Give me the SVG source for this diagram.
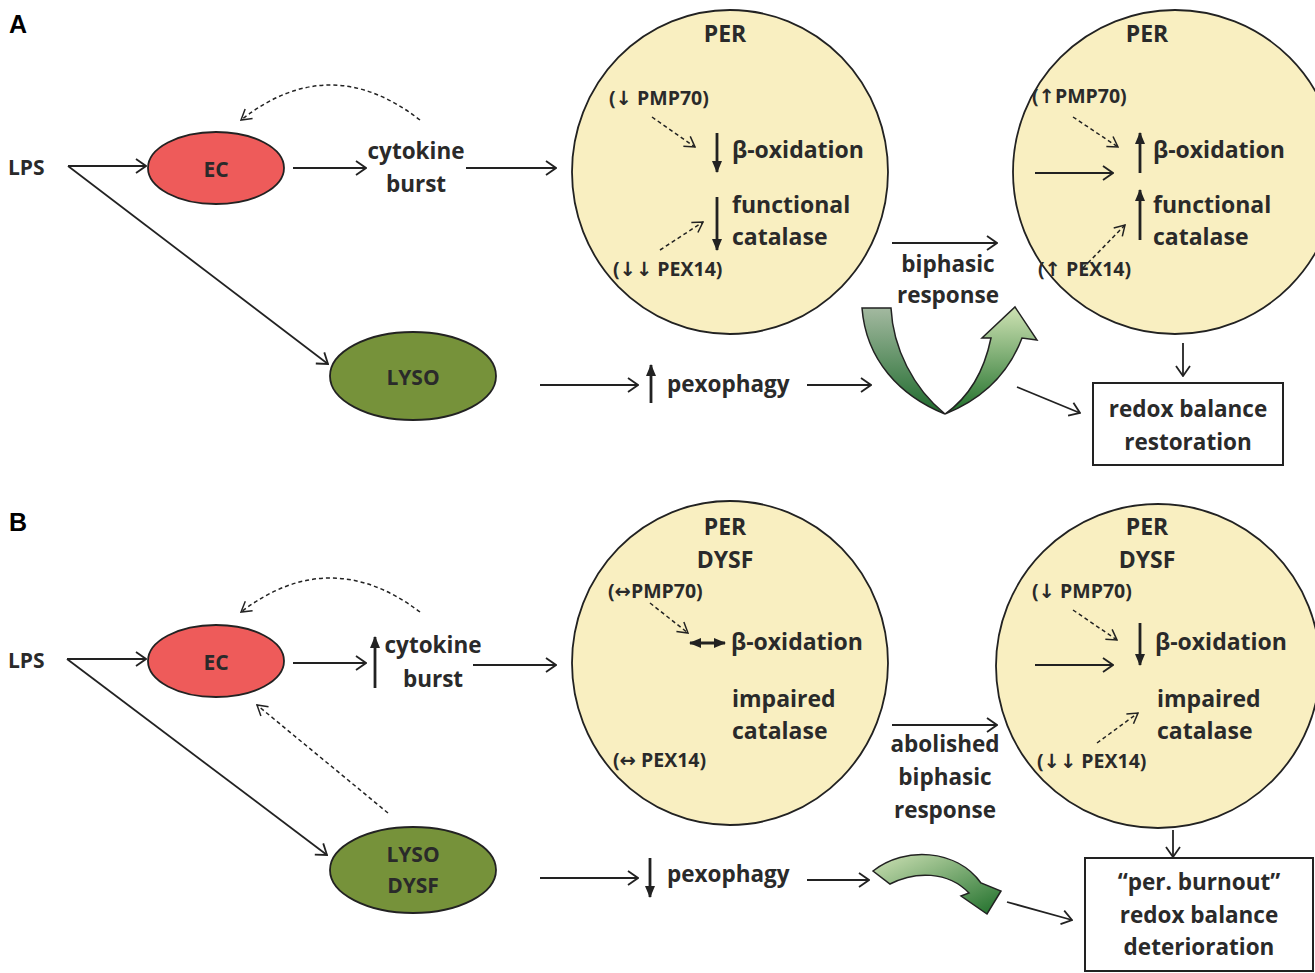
<svg xmlns="http://www.w3.org/2000/svg" width="1315" height="973" viewBox="0 0 1315 973">
<style>
text{font-family:"Open Sans","DejaVu Sans",sans-serif;font-weight:bold;fill:#2a2a2a}
.big{font-size:22.5px}
.lab{font-size:23px}
.sm{font-size:19.5px}
.mid{text-anchor:middle}
.panel{font-family:"Liberation Sans",Arial,sans-serif;font-size:25px;fill:#000}
.ln{fill:none;stroke:#222;stroke-width:1.8;marker-end:url(#oa)}
.ds{fill:none;stroke:#222;stroke-width:1.5;stroke-dasharray:4 3;marker-end:url(#da)}
.fa{fill:none;stroke:#222;stroke-width:2.8;marker-end:url(#fa)}
.per{fill:#f9efc1;stroke:#222;stroke-width:1.8}
.ec{fill:#ee5b5a;stroke:#222;stroke-width:1.8}
.ly{fill:#76923a;stroke:#222;stroke-width:1.8}
.box{fill:#fff;stroke:#222;stroke-width:2}
.ga{stroke:#222;stroke-width:1.5}
</style>
<defs>
<marker id="oa" viewBox="0 0 12 16" refX="11" refY="8" markerWidth="12" markerHeight="16" markerUnits="userSpaceOnUse" orient="auto"><path d="M1,1 L11,8 L1,15" fill="none" stroke="#222" stroke-width="1.8"/></marker>
<marker id="da" viewBox="0 0 12 14" refX="11" refY="7" markerWidth="12" markerHeight="14" markerUnits="userSpaceOnUse" orient="auto"><path d="M1,1 L11,7 L1,13" fill="none" stroke="#222" stroke-width="1.5"/></marker>
<marker id="fa" viewBox="0 0 12 10" refX="11" refY="5" markerWidth="12" markerHeight="10" markerUnits="userSpaceOnUse" orient="auto"><path d="M0,0 L12,5 L0,10 Z" fill="#222"/></marker>
<marker id="fs" viewBox="0 0 12 10" refX="1" refY="5" markerWidth="12" markerHeight="10" markerUnits="userSpaceOnUse" orient="auto"><path d="M12,0 L0,5 L12,10 Z" fill="#222"/></marker>
<linearGradient id="gL" x1="0" y1="0" x2="0" y2="1"><stop offset="0" stop-color="#a3b9a0"/><stop offset="1" stop-color="#1e6a2c"/></linearGradient>
<linearGradient id="gR" x1="0" y1="1" x2="0" y2="0"><stop offset="0" stop-color="#1f6f2a"/><stop offset="1" stop-color="#cfe3b4"/></linearGradient>
<linearGradient id="gB" x1="0" y1="0" x2="1" y2="1"><stop offset="0" stop-color="#cfe2b6"/><stop offset="1" stop-color="#1f6f2a"/></linearGradient>
</defs>

<text class="panel" x="9" y="33">A</text>
<text class="panel" x="9" y="531">B</text>

<g id="connectors">
<!-- panel A -->
<path class="ln" d="M68 166 L146 166"/>
<path class="ln" d="M68 166 L328 364"/>
<path class="ln" d="M293 168 L366 168"/>
<path class="ds" d="M420 120 Q330 50 241 120"/>
<path class="ln" d="M466 168 L556 168"/>
<path class="ln" d="M540 385 L638 385"/>
<path class="fa" d="M651 403 L651 365"/>
<path class="ln" d="M807 385 L871 385"/>
<path class="ln" d="M892 243 L997 243"/>
<path class="ln" d="M1183 343 L1183 376"/>
<path class="ln" d="M1017 387 L1080 413"/>
<!-- panel B -->
<path class="ln" d="M67 659 L146 659"/>
<path class="ln" d="M67 659 L327 855"/>
<path class="ln" d="M293 663 L366 663"/>
<path class="fa" d="M375 688 L375 637"/>
<path class="ds" d="M420 612 Q330 544 241 612"/>
<path class="ln" d="M473 665 L556 665"/>
<path class="ds" d="M388 813 L257 705"/>
<path class="ln" d="M540 878 L638 878"/>
<path class="fa" d="M650 858 L650 897"/>
<path class="ln" d="M807 880 L869 880"/>
<path class="ln" d="M892 725 L997 725"/>
<path class="ln" d="M1173 830 L1173 857"/>
<path class="ln" d="M1007 902 L1072 920"/>
</g>

<g id="ecA"><ellipse class="ec" cx="216" cy="168" rx="68" ry="36"/><text class="big mid" x="216" y="177" style="font-size:21px">EC</text></g>
<g id="lysoA"><ellipse class="ly" cx="413" cy="376" rx="83" ry="44"/><text class="big mid" x="413" y="385" style="font-size:21px">LYSO</text></g>
<g id="lpsA"><text class="big" x="8" y="175" style="font-size:21px">LPS</text></g>
<g id="cytA"><text class="big mid" x="416" y="159">cytokine</text><text class="big mid" x="416" y="192">burst</text></g>
<g id="pexA"><text class="big" x="667" y="392">pexophagy</text></g>
<g id="biA"><text class="big mid" x="948" y="272">biphasic</text><text class="big mid" x="948" y="303">response</text></g>

<g id="perA1">
<ellipse class="per" cx="730" cy="172" rx="158" ry="162"/>
<text class="lab mid" x="725" y="42">PER</text>
<text class="sm" x="609" y="105">(↓ PMP70)</text>
<text class="lab" x="732" y="158">β-oxidation</text>
<text class="lab" x="732" y="213">functional</text>
<text class="lab" x="732" y="245">catalase</text>
<text class="sm" x="613" y="276">(↓↓ PEX14)</text>
<path class="ds" d="M652 117 L695 147"/>
<path class="ds" d="M660 250 L703 222"/>
<path class="fa" d="M717 133 L717 172"/>
<path class="fa" d="M717 197 L717 250"/>
</g>

<g id="perA2">
<ellipse class="per" cx="1175" cy="172" rx="162" ry="162"/>
<text class="lab mid" x="1147" y="42">PER</text>
<text class="sm" x="1032" y="103">(↑PMP70)</text>
<text class="lab" x="1153" y="158">β-oxidation</text>
<text class="lab" x="1153" y="213">functional</text>
<text class="lab" x="1153" y="245">catalase</text>
<text class="sm" x="1038" y="276">(↑ PEX14)</text>
<path class="ds" d="M1073 117 L1118 147"/>
<path class="ds" d="M1083 268 L1125 225"/>
<path class="fa" d="M1140 173 L1140 133"/>
<path class="fa" d="M1140 240 L1140 190"/>
<path class="ln" d="M1035 173 L1113 173"/>
</g>

<g id="uarrowA">
<path class="ga" fill="url(#gL)" d="M862 308 L891 308 C893 348 913 388 945 414 C900 396 866 360 862 308 Z"/>
<path class="ga" fill="url(#gR)" d="M945 414 C980 400 1008 375 1022 338 L1037 340 L1015 307 L982 338 L991 338 C984 372 968 398 945 414 Z"/>
</g>

<g id="redoxA"><rect class="box" x="1093" y="383" width="190" height="82"/><text class="big mid" x="1188" y="417">redox balance</text><text class="big mid" x="1188" y="450">restoration</text></g>

<g id="ecB"><ellipse class="ec" cx="216" cy="661" rx="68" ry="36"/><text class="big mid" x="216" y="670" style="font-size:21px">EC</text></g>
<g id="lysoB"><ellipse class="ly" cx="413" cy="870" rx="83" ry="43"/><text class="big mid" x="413" y="862" style="font-size:21px">LYSO</text><text class="big mid" x="413" y="893" style="font-size:21px">DYSF</text></g>
<g id="lpsB"><text class="big" x="8" y="668" style="font-size:21px">LPS</text></g>
<g id="cytB"><text class="big mid" x="433" y="653">cytokine</text><text class="big mid" x="433" y="687">burst</text></g>
<g id="pexB"><text class="big" x="667" y="882">pexophagy</text></g>
<g id="biB"><text class="big mid" x="945" y="752">abolished</text><text class="big mid" x="945" y="785">biphasic</text><text class="big mid" x="945" y="818">response</text></g>

<g id="perB1">
<ellipse class="per" cx="730" cy="663" rx="158" ry="162"/>
<text class="lab mid" x="725" y="535">PER</text>
<text class="lab mid" x="725" y="568">DYSF</text>
<text class="sm" x="608" y="598">(↔PMP70)</text>
<text class="lab" x="731" y="650">β-oxidation</text>
<text class="lab" x="732" y="707">impaired</text>
<text class="lab" x="732" y="739">catalase</text>
<text class="sm" x="613" y="767">(↔ PEX14)</text>
<path class="ds" d="M650 603 L688 633"/>
<path d="M690 643 L725 643" fill="none" stroke="#222" stroke-width="2.8" marker-end="url(#fa)" marker-start="url(#fs)"/>
</g>

<g id="perB2">
<ellipse class="per" cx="1158" cy="666" rx="162" ry="162"/>
<text class="lab mid" x="1147" y="535">PER</text>
<text class="lab mid" x="1147" y="568">DYSF</text>
<text class="sm" x="1032" y="598">(↓ PMP70)</text>
<text class="lab" x="1155" y="650">β-oxidation</text>
<text class="lab" x="1157" y="707">impaired</text>
<text class="lab" x="1157" y="739">catalase</text>
<text class="sm" x="1037" y="768">(↓↓ PEX14)</text>
<path class="ds" d="M1073 610 L1117 640"/>
<path class="ds" d="M1097 743 L1138 713"/>
<path class="fa" d="M1140 623 L1140 665"/>
<path class="ln" d="M1035 665 L1113 665"/>
</g>

<g id="carrowB">
<path class="ga" fill="url(#gB)" d="M873 871 C905 846 956 849 981 883 L1001 891 L987 914 L961 896 L969 893 C948 871 915 871 890 884 Z"/>
</g>

<g id="redoxB"><rect class="box" x="1085" y="858" width="228" height="113"/><text class="big mid" x="1199" y="890">“per. burnout”</text><text class="big mid" x="1199" y="923">redox balance</text><text class="big mid" x="1199" y="955">deterioration</text></g>
</svg>
